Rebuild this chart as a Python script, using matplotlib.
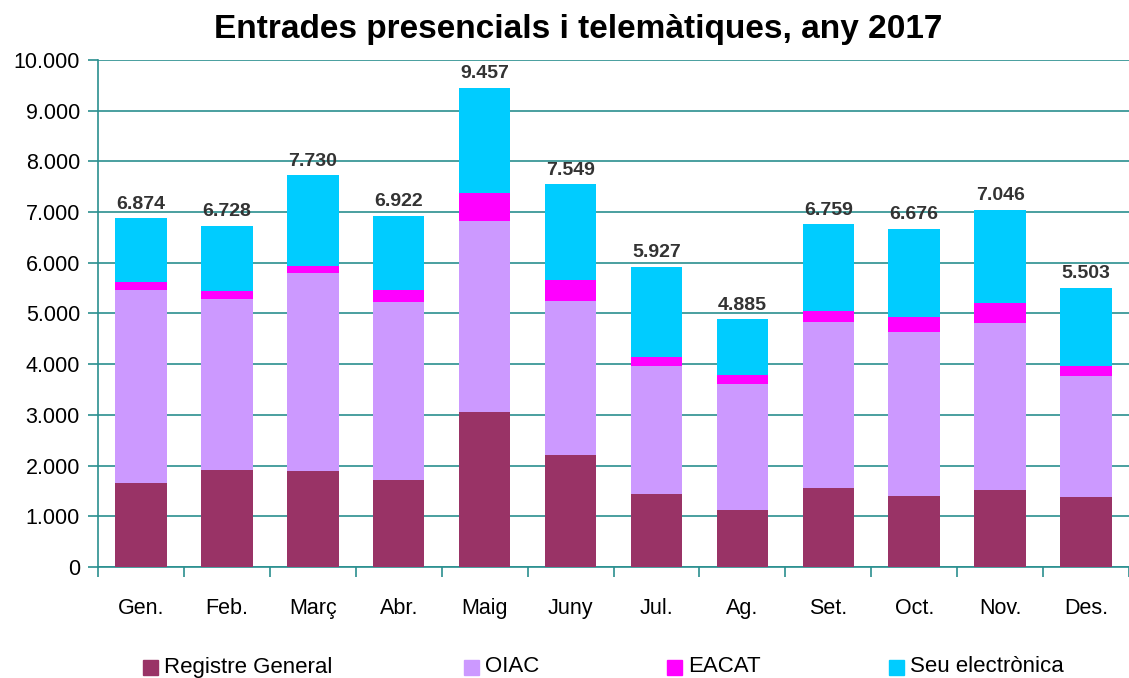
import numpy as np
import matplotlib
matplotlib.use("Agg")
import matplotlib.pyplot as plt
from matplotlib.patches import Rectangle
from matplotlib.ticker import FuncFormatter

months = ["Gen.", "Feb.", "Març", "Abr.", "Maig", "Juny", "Jul.", "Ag.", "Set.", "Oct.", "Nov.", "Des."]
registre = [1651, 1908, 1888, 1711, 3053, 2204, 1434, 1118, 1553, 1395, 1513, 1375]
oiac = [3810, 3375, 3908, 3513, 3769, 3039, 2527, 2487, 3276, 3237, 3296, 2388]
eacat = [164, 164, 145, 243, 553, 415, 177, 178, 217, 296, 395, 204]
totals = [6874, 6728, 7730, 6922, 9457, 7549, 5927, 4885, 6759, 6676, 7046, 5503]
seu = [t - r - o - e for t, r, o, e in zip(totals, registre, oiac, eacat)]

series = [("Registre General", registre, "#993366"),
          ("OIAC", oiac, "#cc99ff"),
          ("EACAT", eacat, "#ff00ff"),
          ("Seu electrònica", seu, "#00ccff")]

plt.rcParams["font.family"] = ["Liberation Sans", "DejaVu Sans"]
teal = "#2a8f8f"

fig = plt.figure(figsize=(11.29, 6.78), dpi=100)
ax = fig.add_axes([98 / 1129, 1 - 567 / 678, 1 - 98 / 1129, (567 - 60) / 678])

x = np.arange(len(months))
bottom = np.zeros(len(months))
for name, vals, col in series:
    ax.bar(x, vals, width=0.6, bottom=bottom, color=col, label=name, zorder=3)
    bottom += np.array(vals)

for xi, t in zip(x, totals):
    ax.text(xi, t + 110, f"{t:,}".replace(",", "."), ha="center", va="bottom",
            fontsize=14, fontweight="bold", color="#333333")

ax.set_xlim(-0.5, len(months) - 0.5)
ax.set_ylim(0, 10000)
ax.set_yticks(np.arange(0, 10001, 1000))
ax.yaxis.set_major_formatter(FuncFormatter(lambda v, p: f"{int(v):,}".replace(",", ".")))
ax.yaxis.grid(True, color=teal, linewidth=1.2, zorder=0)
ax.set_axisbelow(True)

ax.set_xticks(x)
ax.set_xticklabels(months)
ax.set_xticks(np.arange(-0.5, len(months), 1), minor=True)
ax.tick_params(axis="x", which="major", length=0, pad=22, labelsize=15.5)
ax.tick_params(axis="x", which="minor", length=7, color=teal, width=1.2)
ax.tick_params(axis="y", length=7, color=teal, width=1.2, labelsize=15.5, pad=6)

for s in ["top", "right"]:
    ax.spines[s].set_visible(False)
for s in ["left", "bottom"]:
    ax.spines[s].set_color(teal)
    ax.spines[s].set_linewidth(1.2)

fig.text(0.512, 0.957, "Entrades presencials i telemàtiques, any 2017", ha="center", va="center",
         fontsize=24, fontweight="bold")

# legend laid out like the original
leg_x = [143, 464, 667, 889]
for (name, _, col), lx in zip(series, leg_x):
    fig.patches.append(Rectangle((lx / 1129, 1 - 675 / 678), 15 / 1129, 15 / 678,
                                 transform=fig.transFigure, color=col, figure=fig))
    fig.text((lx + 21) / 1129, 1 - 667 / 678, name, ha="left", va="center", fontsize=16)

fig.savefig("out.png", dpi=100)
